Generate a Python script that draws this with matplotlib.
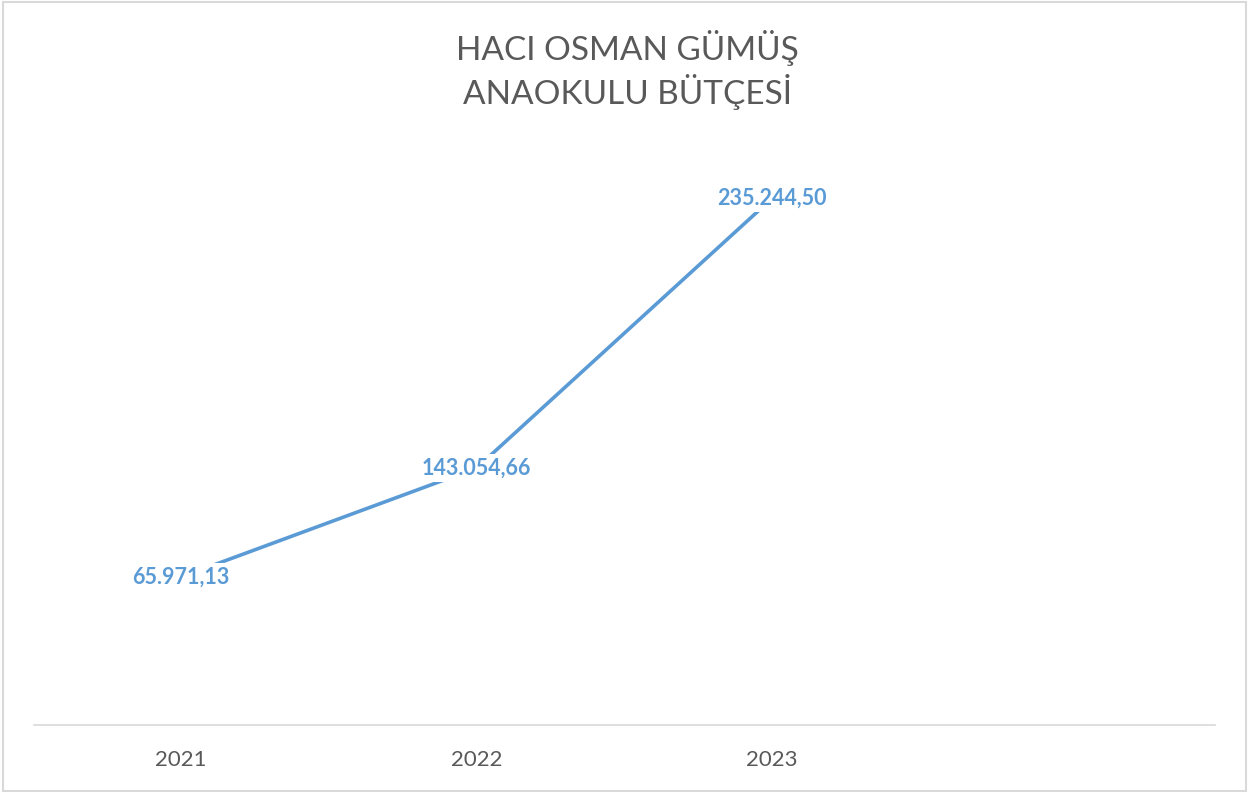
import matplotlib.pyplot as plt
from matplotlib.patches import Rectangle

# chart data
years = ["2021", "2022", "2023", ""]
budget = [65971.13, 143054.66, 235244.50]        # values printed as data labels
line_values = [65971.13, 114700.0, 235244.50]    # heights as drawn in the picture

BLUE = "#5B9BD5"
GRAY = "#595959"


def tr_format(v):
    s = f"{v:,.2f}"
    return s.replace(",", "X").replace(".", ",").replace("X", ".")


plt.rcParams["font.family"] = ["Lato", "DejaVu Sans"]

fig = plt.figure(figsize=(12.48, 7.92), dpi=100)
ax = fig.add_axes([33.5 / 1248, 1 - 724.5 / 792, (1215 - 33.5) / 1248, 559 / 792])

x = list(range(len(years)))
ax.plot(x[:len(line_values)], line_values, color=BLUE, lw=2.6,
        solid_capstyle="butt", zorder=2)

for xi, yi, b in zip(x, line_values, budget):
    ax.text(xi, yi, tr_format(b), ha="center", va="center", fontsize=15.5,
            fontweight="bold", color=BLUE, zorder=3,
            bbox=dict(facecolor="white", edgecolor="none", pad=2.5))

ax.set_xlim(-0.5, len(years) - 0.5)
ax.set_ylim(0, 250000)
ax.set_xticks(x)
ax.set_xticklabels(years, fontsize=16, color=GRAY)
ax.tick_params(axis="x", length=0, pad=18)
ax.set_yticks([])
for side in ["left", "right", "top"]:
    ax.spines[side].set_visible(False)
ax.spines["bottom"].set_color("#D9D9D9")
ax.spines["bottom"].set_linewidth(1.2)

fig.text(0.503, 1 - 70 / 792, "HACI OSMAN GÜMÜŞ\nANAOKULU BÜTÇESİ",
         ha="center", va="center", fontsize=24, color=GRAY, linespacing=1.3)

fig.patches.append(Rectangle((3 / 1248, 1.5 / 792), 1243 / 1248, 789 / 792,
                             transform=fig.transFigure, fill=False,
                             edgecolor="#D9D9D9", lw=1.5))

fig.savefig("out.png", dpi=100)
